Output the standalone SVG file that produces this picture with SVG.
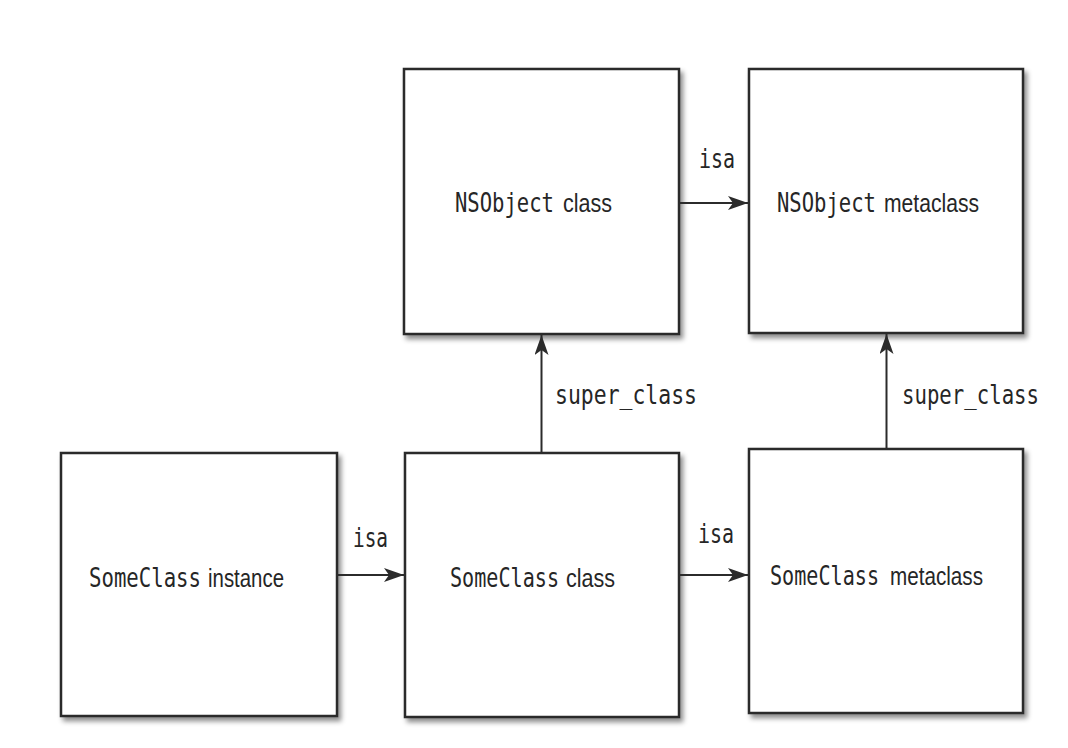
<svg xmlns="http://www.w3.org/2000/svg" width="1068" height="748" viewBox="0 0 1068 748">
<style>
.box{fill:#fff;stroke:#2b2b2b;stroke-width:2.5;filter:url(#sh)}
.mono{font-family:"DejaVu Sans Mono","Liberation Mono",monospace;font-size:21px;fill:#262626}
.sans{font-family:"Liberation Sans","Noto Sans",sans-serif;font-size:21px;fill:#262626}
.conn{stroke:#2b2b2b;stroke-width:2;fill:none;marker-end:url(#ah)}
</style>
<defs>
<filter id="sh" x="-10%" y="-10%" width="125%" height="125%">
<feDropShadow dx="3" dy="4" stdDeviation="2.5" flood-color="#000" flood-opacity="0.45"/>
</filter>
<marker id="ah" viewBox="0 0 20 14" refX="20" refY="7" markerWidth="20" markerHeight="14" markerUnits="userSpaceOnUse" orient="auto">
<path d="M0,0 L20,7 L0,14 L5,7 Z" fill="#2b2b2b"/>
</marker>
</defs>
<rect width="1068" height="748" fill="#fff"/>
<g id="nsobject-class">
<rect class="box" x="404" y="69" width="275" height="265"/>
<text class="mono" transform="translate(455,212) scale(1,1.25)" textLength="99" lengthAdjust="spacingAndGlyphs">NSObject</text>
<text class="sans" transform="translate(563,212) scale(1,1.25)" textLength="49" lengthAdjust="spacingAndGlyphs">class</text>
</g>
<g id="nsobject-metaclass">
<rect class="box" x="749" y="69" width="274" height="264"/>
<text class="mono" transform="translate(777,212) scale(1,1.25)" textLength="99" lengthAdjust="spacingAndGlyphs">NSObject</text>
<text class="sans" transform="translate(884,212) scale(1,1.25)" textLength="95" lengthAdjust="spacingAndGlyphs">metaclass</text>
</g>
<g id="someclass-instance">
<rect class="box" x="61" y="453" width="276" height="263"/>
<text class="mono" transform="translate(89,587) scale(1,1.25)" textLength="112" lengthAdjust="spacingAndGlyphs">SomeClass</text>
<text class="sans" transform="translate(208,587) scale(1,1.25)" textLength="76" lengthAdjust="spacingAndGlyphs">instance</text>
</g>
<g id="someclass-class">
<rect class="box" x="405" y="453" width="274" height="264"/>
<text class="mono" transform="translate(450,587) scale(1,1.25)" textLength="109" lengthAdjust="spacingAndGlyphs">SomeClass</text>
<text class="sans" transform="translate(566,587) scale(1,1.25)" textLength="49" lengthAdjust="spacingAndGlyphs">class</text>
</g>
<g id="someclass-metaclass">
<rect class="box" x="749" y="449" width="274" height="264"/>
<text class="mono" transform="translate(770,585) scale(1,1.25)" textLength="109" lengthAdjust="spacingAndGlyphs">SomeClass</text>
<text class="sans" transform="translate(890,585) scale(1,1.25)" textLength="93" lengthAdjust="spacingAndGlyphs">metaclass</text>
</g>
<g id="connectors">
<line class="conn" x1="679" y1="203" x2="748" y2="203"/>
<line class="conn" x1="337" y1="575" x2="404" y2="575"/>
<line class="conn" x1="679" y1="575" x2="748" y2="575"/>
<line class="conn" x1="541.5" y1="453" x2="541.5" y2="335"/>
<line class="conn" x1="886.5" y1="449" x2="886.5" y2="334"/>
<text class="mono" transform="translate(699,168) scale(1,1.25)" textLength="36" lengthAdjust="spacingAndGlyphs">isa</text>
<text class="mono" transform="translate(353,547) scale(1,1.25)" textLength="35" lengthAdjust="spacingAndGlyphs">isa</text>
<text class="mono" transform="translate(698,543) scale(1,1.25)" textLength="36" lengthAdjust="spacingAndGlyphs">isa</text>
<text class="mono" transform="translate(555,404) scale(1,1.25)" textLength="142" lengthAdjust="spacingAndGlyphs">super_class</text>
<text class="mono" transform="translate(902,404) scale(1,1.25)" textLength="137" lengthAdjust="spacingAndGlyphs">super_class</text>
</g>
</svg>
